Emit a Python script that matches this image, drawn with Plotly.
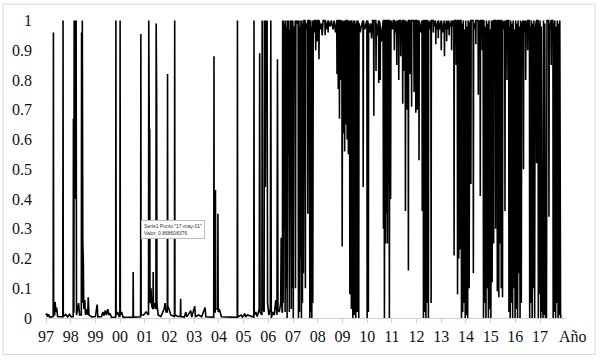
import plotly.graph_objects as go

# ---- data: (decimal year, probability) ----
tramo_1997_2005 = [
    (1997.00, 0.010), (1997.03, 0.015), (1997.06, 0.004), (1997.10, 0.012), (1997.15, 0.003),
    (1997.29, 0.005), (1997.30, 0.96), (1997.31, 0.010), (1997.35, 0.010), (1997.37, 0.054),
    (1997.40, 0.020), (1997.43, 0.035), (1997.47, 0.005), (1997.68, 0.004), (1997.69, 1.0),
    (1997.70, 0.005), (1997.80, 0.012), (1997.88, 0.004), (1997.95, 0.012), (1998.02, 0.004),
    (1998.10, 0.005), (1998.11, 0.67), (1998.12, 0.020), (1998.13, 0.020), (1998.14, 1.0),
    (1998.16, 0.83), (1998.18, 1.0), (1998.20, 0.40), (1998.22, 1.0), (1998.235, 0.010),
    (1998.28, 0.030), (1998.32, 0.050), (1998.36, 0.010), (1998.43, 0.010), (1998.44, 0.96),
    (1998.45, 0.080), (1998.46, 0.050), (1998.47, 1.0), (1998.49, 0.25), (1998.51, 0.20),
    (1998.53, 0.030), (1998.57, 0.060), (1998.60, 0.010), (1998.66, 0.030), (1998.69, 0.010),
    (1998.71, 0.070), (1998.74, 0.010), (1998.85, 0.004), (1999.00, 0.005), (1999.07, 0.045),
    (1999.10, 0.004), (1999.25, 0.005), (1999.30, 0.020), (1999.35, 0.008), (1999.40, 0.025),
    (1999.45, 0.010), (1999.50, 0.030), (1999.55, 0.010), (1999.60, 0.015), (1999.65, 0.002),
    (1999.82, 0.003), (1999.83, 1.0), (1999.84, 0.010), (1999.90, 0.020), (1999.96, 0.005),
    (1999.99, 0.005), (2000.00, 1.0), (2000.01, 0.010), (2000.06, 0.020), (2000.12, 0.003),
    (2000.52, 0.002), (2000.53, 0.155), (2000.54, 0.003), (2000.83, 0.004), (2000.84, 0.955),
    (2000.85, 0.010), (2000.95, 0.010), (2001.05, 0.020), (2001.15, 0.010), (2001.16, 1.0),
    (2001.18, 0.64), (2001.20, 0.63), (2001.21, 0.050), (2001.25, 0.10), (2001.28, 0.040),
    (2001.33, 0.030), (2001.34, 0.155), (2001.35, 0.030), (2001.41, 0.050), (2001.45, 0.030),
    (2001.46, 0.99), (2001.48, 0.72), (2001.49, 0.050), (2001.54, 0.010), (2001.65, 0.005),
    (2001.78, 0.030), (2001.82, 0.050), (2001.86, 0.020), (2001.91, 0.020), (2001.92, 0.82),
    (2001.93, 0.040), (2001.98, 0.030), (2002.05, 0.010), (2002.20, 0.005), (2002.21, 1.0),
    (2002.22, 0.010), (2002.35, 0.005), (2002.44, 0.005), (2002.45, 0.065), (2002.46, 0.005),
    (2002.60, 0.003), (2002.66, 0.020), (2002.70, 0.004), (2002.86, 0.025), (2002.90, 0.003),
    (2003.02, 0.040), (2003.05, 0.005), (2003.19, 0.010), (2003.30, 0.004), (2003.44, 0.035),
    (2003.47, 0.004), (2003.79, 0.003), (2003.80, 0.88), (2003.81, 0.020), (2003.85, 0.020),
    (2003.86, 0.43), (2003.87, 0.030), (2003.95, 0.030), (2003.96, 0.35), (2003.97, 0.020),
    (2004.01, 0.030), (2004.05, 0.020), (2004.10, 0.004), (2004.74, 0.002), (2004.75, 1.0),
    (2004.76, 0.003), (2004.90, 0.010), (2004.95, 0.003), (2005.05, 0.015), (2005.08, 0.003),
    (2005.15, 0.010), (2005.41, 0.003), (2005.42, 1.0), (2005.43, 0.010),
]

tramo_2005_2009 = [
    (2005.49, 0.020), (2005.55, 0.005), (2005.63, 0.030), (2005.65, 0.89), (2005.665, 0.020),
    (2005.74, 0.010), (2005.75, 1.0), (2005.765, 0.040), (2005.83, 0.020), (2005.84, 1.0),
    (2005.86, 0.93), (2005.88, 0.44), (2005.90, 1.0), (2005.92, 0.87), (2005.95, 1.0),
    (2005.97, 0.050), (2006.02, 0.010), (2006.08, 0.030), (2006.10, 1.0), (2006.12, 0.0),
    (2006.18, 0.020), (2006.24, 0.010), (2006.30, 0.060), (2006.35, 0.010), (2006.37, 0.87),
    (2006.39, 0.030), (2006.44, 0.020), (2006.50, 0.050), (2006.52, 0.27), (2006.555, 0.020),
    (2006.57, 0.020), (2006.58, 1.0), (2006.60, 0.050), (2006.62, 1.0), (2006.64, 0.30),
    (2006.66, 0.99), (2006.68, 0.020), (2006.70, 1.0), (2006.72, 0.10), (2006.74, 0.98),
    (2006.76, 0.0), (2006.78, 1.0), (2006.80, 0.55), (2006.83, 1.0), (2006.85, 0.020),
    (2006.87, 0.97), (2006.89, 0.50), (2006.91, 1.0), (2006.93, 0.030), (2006.95, 1.0),
    (2006.97, 0.10), (2006.99, 1.0), (2007.01, 0.0), (2007.03, 0.98), (2007.08, 0.97),
    (2007.09, 1.0), (2007.10, 0.10), (2007.115, 1.0), (2007.17, 0.99), (2007.205, 1.0),
    (2007.22, 0.0), (2007.24, 1.0), (2007.26, 0.020), (2007.28, 0.98), (2007.30, 0.20),
    (2007.32, 1.0), (2007.34, 0.0), (2007.36, 1.0), (2007.38, 0.050), (2007.40, 0.99),
    (2007.42, 0.15), (2007.44, 1.0), (2007.485, 1.0), (2007.50, 0.10), (2007.515, 0.99),
    (2007.58, 0.97), (2007.59, 1.0), (2007.60, 0.35), (2007.615, 1.0), (2007.665, 1.0),
    (2007.68, 0.0), (2007.70, 1.0), (2007.72, 0.020), (2007.74, 0.98), (2007.76, 0.0),
    (2007.78, 1.0), (2007.80, 0.050), (2007.82, 1.0), (2007.86, 0.96), (2007.87, 1.0),
    (2007.91, 1.0), (2007.92, 0.90), (2007.93, 0.99), (2007.97, 1.0), (2007.98, 0.93),
    (2007.99, 1.0), (2008.04, 1.0), (2008.05, 0.87), (2008.06, 1.0), (2008.10, 0.97),
    (2008.15, 0.99), (2008.18, 0.95), (2008.22, 1.0), (2008.29, 1.0), (2008.30, 0.95),
    (2008.31, 1.0), (2008.36, 0.97), (2008.41, 1.0), (2008.42, 0.96), (2008.43, 1.0),
    (2008.50, 0.98), (2008.55, 1.0), (2008.62, 0.97), (2008.66, 1.0), (2008.72, 0.96),
    (2008.77, 1.0), (2008.78, 0.82), (2008.79, 1.0), (2008.82, 1.0), (2008.83, 0.77),
    (2008.84, 0.99), (2008.87, 1.0), (2008.88, 0.67), (2008.89, 1.0), (2008.92, 1.0),
    (2008.93, 0.80), (2008.94, 0.98), (2008.975, 1.0), (2008.99, 0.24), (2009.005, 1.0),
    (2009.03, 0.98), (2009.04, 0.62), (2009.05, 0.97), (2009.08, 1.0), (2009.09, 0.56),
    (2009.10, 1.0), (2009.13, 0.99), (2009.14, 0.65), (2009.15, 1.0), (2009.18, 1.0),
    (2009.19, 0.60), (2009.20, 0.98),
]

tramo_2009_2013 = [
    (2009.23, 1.0), (2009.24, 0.55), (2009.25, 1.0), (2009.29, 0.99), (2009.30, 0.080),
    (2009.31, 0.99), (2009.35, 1.0), (2009.36, 0.030), (2009.37, 1.0), (2009.41, 0.98),
    (2009.42, 0.0), (2009.43, 0.98), (2009.47, 1.0), (2009.48, 0.010), (2009.49, 1.0),
    (2009.53, 0.97), (2009.54, 0.0), (2009.55, 0.97), (2009.59, 1.0), (2009.60, 0.020),
    (2009.61, 1.0), (2009.65, 0.99), (2009.66, 0.0), (2009.67, 0.99), (2009.72, 0.96),
    (2009.76, 0.98), (2009.83, 1.0), (2009.84, 0.44), (2009.85, 1.0), (2009.90, 0.97),
    (2009.99, 1.0), (2010.00, 0.0), (2010.01, 1.0), (2010.04, 0.99), (2010.05, 0.020),
    (2010.06, 0.99), (2010.11, 0.96), (2010.15, 0.99), (2010.18, 0.94), (2010.22, 1.0),
    (2010.26, 1.0), (2010.27, 0.68), (2010.28, 1.0), (2010.35, 1.0), (2010.36, 0.83),
    (2010.37, 0.99), (2010.42, 0.95), (2010.46, 1.0), (2010.47, 0.79), (2010.48, 1.0),
    (2010.52, 0.99), (2010.53, 0.80), (2010.54, 0.98), (2010.60, 0.93), (2010.645, 1.0),
    (2010.66, 0.30), (2010.675, 1.0), (2010.685, 1.0), (2010.70, 0.0), (2010.715, 0.99),
    (2010.725, 1.0), (2010.74, 0.25), (2010.755, 1.0), (2010.765, 1.0), (2010.78, 0.35),
    (2010.795, 0.98), (2010.805, 1.0), (2010.82, 0.25), (2010.835, 1.0), (2010.845, 1.0),
    (2010.86, 0.45), (2010.875, 1.0), (2010.885, 1.0), (2010.90, 0.0), (2010.915, 0.98),
    (2010.935, 1.0), (2010.95, 0.40), (2010.965, 1.0), (2011.02, 0.97), (2011.06, 1.0),
    (2011.09, 1.0), (2011.10, 0.90), (2011.11, 1.0), (2011.16, 0.96), (2011.19, 1.0),
    (2011.20, 0.85), (2011.21, 0.99), (2011.27, 1.0), (2011.28, 0.80), (2011.29, 1.0),
    (2011.35, 1.0), (2011.36, 0.88), (2011.37, 0.97), (2011.43, 1.0), (2011.44, 0.72),
    (2011.45, 1.0), (2011.49, 1.0), (2011.50, 0.83), (2011.51, 0.99), (2011.54, 1.0),
    (2011.55, 0.36), (2011.56, 1.0), (2011.61, 0.98), (2011.62, 0.70), (2011.63, 0.98),
    (2011.66, 1.0), (2011.67, 0.16), (2011.68, 1.0), (2011.73, 1.0), (2011.74, 0.82),
    (2011.75, 0.99), (2011.79, 1.0), (2011.80, 0.71), (2011.81, 1.0), (2011.89, 1.0),
    (2011.90, 0.76), (2011.91, 0.99), (2011.96, 1.0), (2011.97, 0.69), (2011.98, 1.0),
    (2012.02, 1.0), (2012.03, 0.70), (2012.04, 0.98), (2012.09, 1.0), (2012.10, 0.53),
    (2012.11, 1.0), (2012.16, 0.96), (2012.22, 1.0), (2012.23, 0.36), (2012.24, 0.99),
    (2012.27, 1.0), (2012.28, 0.0), (2012.29, 1.0), (2012.32, 1.0), (2012.33, 0.020),
    (2012.34, 0.97), (2012.37, 1.0), (2012.38, 0.0), (2012.39, 1.0), (2012.42, 1.0),
    (2012.43, 0.050), (2012.44, 0.99), (2012.47, 1.0), (2012.48, 0.0), (2012.49, 1.0),
    (2012.54, 0.97), (2012.58, 1.0), (2012.59, 0.050), (2012.60, 1.0), (2012.67, 1.0),
    (2012.68, 0.96), (2012.69, 1.0), (2012.74, 0.98), (2012.77, 1.0), (2012.78, 0.92),
    (2012.79, 0.99), (2012.84, 0.97), (2012.87, 1.0), (2012.88, 0.94), (2012.89, 1.0),
    (2012.95, 0.97), (2012.99, 1.0), (2013.00, 0.90), (2013.01, 1.0), (2013.07, 0.96),
    (2013.12, 1.0), (2013.13, 0.88), (2013.14, 0.99), (2013.18, 0.97), (2013.21, 1.0),
    (2013.22, 0.93), (2013.23, 1.0), (2013.28, 0.97), (2013.31, 1.0), (2013.32, 0.95),
    (2013.33, 0.99), (2013.38, 0.98), (2013.41, 1.0), (2013.42, 0.90), (2013.43, 1.0),
    (2013.48, 0.98),
]

tramo_2013_2017 = [
    (2013.51, 1.0), (2013.52, 0.21), (2013.53, 1.0), (2013.59, 1.0), (2013.60, 0.85),
    (2013.61, 0.99), (2013.65, 1.0), (2013.66, 0.080), (2013.67, 1.0), (2013.695, 1.0),
    (2013.71, 0.20), (2013.725, 0.98), (2013.745, 1.0), (2013.76, 0.23), (2013.775, 1.0),
    (2013.80, 1.0), (2013.82, 0.0), (2013.84, 0.99), (2013.87, 0.020), (2013.89, 1.0),
    (2013.92, 0.050), (2013.94, 0.97), (2013.97, 0.0), (2013.99, 1.0), (2014.02, 0.010),
    (2014.04, 0.98), (2014.07, 0.0), (2014.09, 1.0), (2014.13, 0.10), (2014.15, 0.99),
    (2014.19, 1.0), (2014.20, 0.45), (2014.21, 1.0), (2014.29, 1.0), (2014.30, 0.15),
    (2014.31, 0.99), (2014.36, 0.97), (2014.39, 1.0), (2014.40, 0.92), (2014.41, 1.0),
    (2014.49, 1.0), (2014.50, 0.75), (2014.51, 0.99), (2014.57, 1.0), (2014.58, 0.41),
    (2014.59, 1.0), (2014.65, 1.0), (2014.66, 0.90), (2014.67, 1.0), (2014.695, 1.0),
    (2014.71, 0.0), (2014.73, 1.0), (2014.76, 0.050), (2014.78, 0.98), (2014.81, 0.0),
    (2014.83, 1.0), (2014.86, 0.10), (2014.88, 0.99), (2014.91, 0.0), (2014.93, 1.0),
    (2014.96, 0.030), (2014.98, 0.97), (2015.01, 0.0), (2015.03, 1.0), (2015.06, 0.12),
    (2015.08, 0.99), (2015.11, 1.0), (2015.12, 0.25), (2015.13, 1.0), (2015.19, 1.0),
    (2015.20, 0.30), (2015.21, 0.98), (2015.26, 1.0), (2015.27, 0.090), (2015.28, 1.0),
    (2015.32, 1.0), (2015.33, 0.070), (2015.34, 0.99), (2015.37, 1.0), (2015.38, 0.25),
    (2015.39, 1.0), (2015.42, 1.0), (2015.43, 0.10), (2015.44, 0.97), (2015.47, 1.0),
    (2015.48, 0.070), (2015.49, 1.0), (2015.54, 0.97), (2015.57, 1.0), (2015.58, 0.36),
    (2015.59, 0.99), (2015.65, 1.0), (2015.66, 0.80), (2015.67, 1.0), (2015.73, 1.0),
    (2015.74, 0.020), (2015.76, 0.98), (2015.79, 0.0), (2015.81, 1.0), (2015.84, 0.050),
    (2015.86, 0.99), (2015.89, 0.0), (2015.91, 1.0), (2015.94, 0.10), (2015.96, 0.97),
    (2015.99, 0.0), (2016.01, 1.0), (2016.04, 0.030), (2016.06, 0.99), (2016.09, 0.0),
    (2016.11, 1.0), (2016.14, 0.15), (2016.16, 0.98), (2016.19, 0.0), (2016.21, 1.0),
    (2016.24, 0.050), (2016.26, 0.99), (2016.32, 1.0), (2016.33, 0.50), (2016.34, 1.0),
    (2016.38, 0.96), (2016.41, 1.0), (2016.42, 0.80), (2016.43, 0.99), (2016.49, 1.0),
    (2016.50, 0.90), (2016.51, 1.0), (2016.57, 1.0), (2016.58, 0.0), (2016.60, 0.98),
    (2016.63, 0.050), (2016.65, 1.0), (2016.68, 0.0), (2016.70, 0.99), (2016.73, 0.10),
    (2016.75, 1.0), (2016.78, 0.0), (2016.80, 0.97), (2016.85, 1.0), (2016.86, 0.52),
    (2016.87, 1.0), (2016.92, 1.0), (2016.93, 0.0), (2016.95, 0.99), (2016.98, 0.080),
    (2017.00, 1.0), (2017.03, 0.0), (2017.05, 0.98), (2017.08, 0.020), (2017.10, 0.090),
    (2017.12, 0.0), (2017.14, 1.0), (2017.17, 0.010), (2017.19, 0.99), (2017.22, 0.0),
    (2017.24, 0.060), (2017.26, 0.0), (2017.28, 1.0), (2017.35, 1.0), (2017.36, 0.34),
    (2017.37, 0.97), (2017.41, 0.98), (2017.44, 1.0), (2017.45, 0.85), (2017.46, 1.0),
    (2017.52, 1.0), (2017.53, 0.0), (2017.55, 0.99), (2017.58, 0.020), (2017.60, 1.0),
    (2017.63, 0.0), (2017.65, 0.98), (2017.68, 0.050), (2017.70, 1.0), (2017.73, 0.0),
    (2017.75, 0.99), (2017.78, 0.010), (2017.80, 1.0), (2017.83, 0.0), (2017.85, 0.010),
]

anios = list(range(1997, 2018))
etiquetas_x = ["97", "98", "99", "00", "01", "02", "03", "04", "05", "06", "07",
               "08", "09", "10", "11", "12", "13", "14", "15", "16", "17"]
valores_y = [0, 0.1, 0.2, 0.3, 0.4, 0.5, 0.6, 0.7, 0.8, 0.9, 1]
etiquetas_y = ["0", "0.1", "0.2", "0.3", "0.4", "0.5", "0.6", "0.7", "0.8", "0.9", "1"]

serie = tramo_1997_2005 + tramo_2005_2009 + tramo_2009_2013 + tramo_2013_2017
fecha = [p[0] for p in serie]
prob = [p[1] for p in serie]

FONT = "Liberation Serif, Times New Roman, serif"

fig = go.Figure()
fig.add_trace(go.Scatter(
    x=fecha, y=prob, mode="lines",
    line=dict(color="#000000", width=1.6, simplify=False),
    hoverinfo="skip", showlegend=False,
))

L, R, T, B = 44, 36, 16, 42
fig.update_layout(
    width=602, height=360,
    margin=dict(l=L, r=R, t=T, b=B, pad=0),
    paper_bgcolor="white", plot_bgcolor="white",
    font=dict(family=FONT, size=16, color="#111111"),
    xaxis=dict(
        range=[1997 - 1 / 24.75, 2018.05],
        tickvals=anios, ticktext=etiquetas_x,
        showgrid=False, zeroline=False,
        showline=True, linecolor="#d0d0d0", linewidth=1,
        ticks="outside", ticklen=4, tickcolor="#d0d0d0",
        tickfont=dict(family=FONT, size=16, color="#111111"),
    ),
    yaxis=dict(
        range=[0, 1.005],
        tickvals=valores_y, ticktext=etiquetas_y,
        showgrid=False, zeroline=False, showline=False,
        ticks="", ticklabelstandoff=12,
        tickfont=dict(family=FONT, size=16, color="#111111"),
    ),
)

pw = 602 - L - R
ph = 360 - T - B

def px_x(p):
    return (p - L) / pw

def px_y(p):
    return (360 - B - p) / ph

# outer chart frame
fig.add_shape(type="rect", xref="paper", yref="paper",
              x0=px_x(2), x1=px_x(595), y0=px_y(355), y1=px_y(1),
              line=dict(color="#d9d9d9", width=1), fillcolor="rgba(0,0,0,0)", layer="below")

fig.add_annotation(text="Año", xref="paper", yref="paper",
                   x=px_x(573), y=px_y(337), xanchor="center", yanchor="middle",
                   showarrow=False, font=dict(family=FONT, size=16, color="#111111"))

# data tip box
fig.add_annotation(text='Serie1 Punto "17-may-01"<br>Valor: 0.868608376',
                   xref="paper", yref="paper", x=px_x(140), y=px_y(219),
                   xanchor="left", yanchor="top", align="left", showarrow=False,
                   font=dict(family="Liberation Sans, Arial, sans-serif", size=5, color="#333333"),
                   bgcolor="#ffffff", bordercolor="#bdbdbd", borderwidth=1, borderpad=2)

fig.write_html("out.html", config={"displayModeBar": False},
               post_script="document.body.style.margin='0px';")
